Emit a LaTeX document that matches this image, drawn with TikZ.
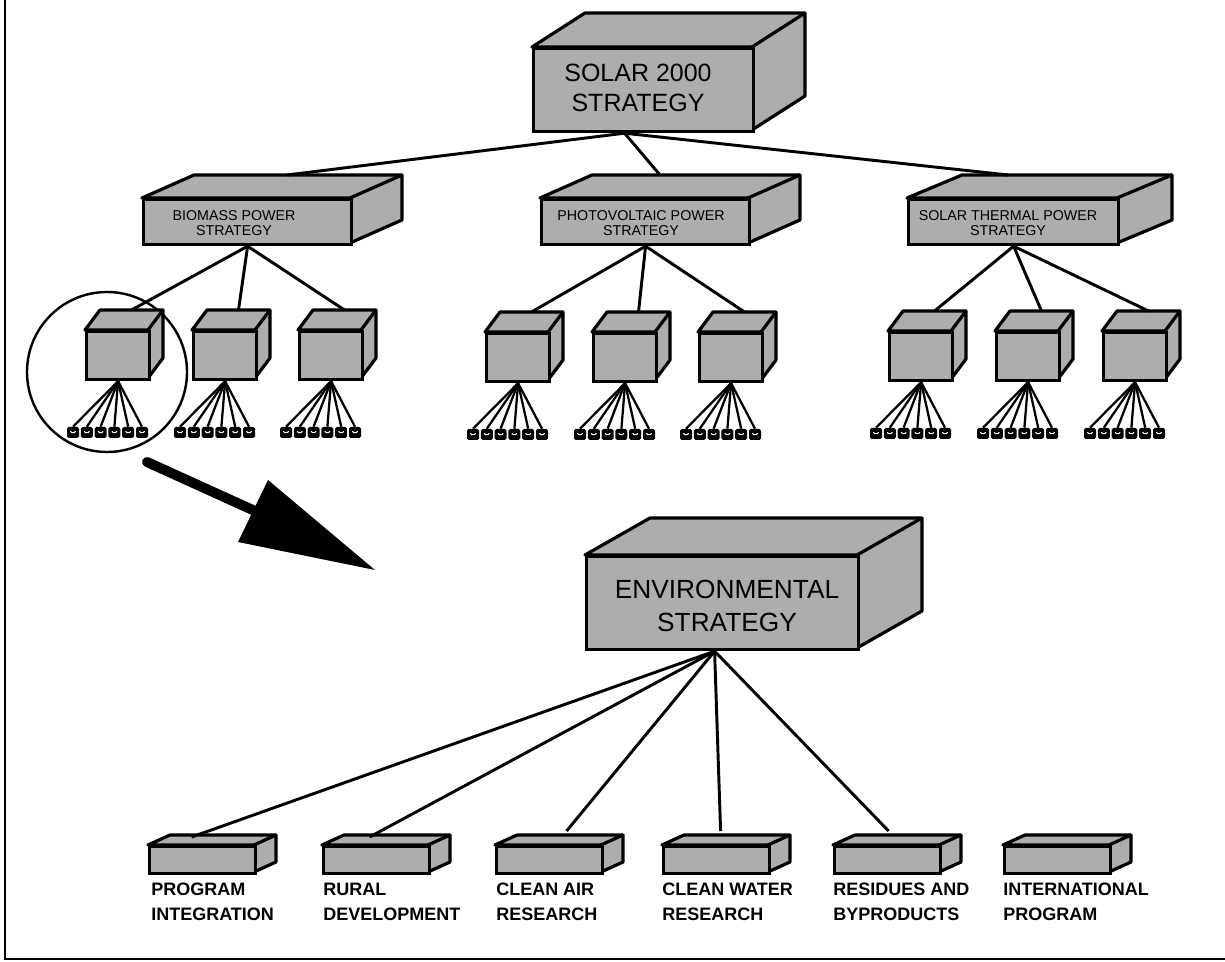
\documentclass[tikz,border=0pt]{standalone}
\usepackage{fontspec}
\setmainfont{Liberation Sans}
\usetikzlibrary{calc}

\tikzset{
  boxside/.style={fill=black!32, draw=black, line width=2.4pt, line join=round},
  boxedge/.style={draw=black, line width=2.4pt, line cap=round},
  boxfront/.style={rectangle, draw=black, fill=black!32, line width=2.4pt, inner sep=0pt},
  link/.style={line width=2.2pt},
  twig/.style={line width=1.7pt},
  tinybox/.style={rectangle, fill=black, rounded corners=1.3pt, inner sep=0pt,
    minimum width=9pt, minimum height=8.25pt,
    path picture={\draw[white, line width=0.8pt, line cap=round]
      ([xshift=-1.8pt,yshift=0.8pt]path picture bounding box.center) --
      ([yshift=-1pt]path picture bounding box.center) --
      ([xshift=1.8pt,yshift=0.8pt]path picture bounding box.center);}},
  bigtext/.style={font=\fontsize{18.75}{22.5}\selectfont, align=center, inner sep=0pt},
  envtext/.style={font=\fontsize{19.7}{24.75}\selectfont, align=center, inner sep=0pt},
  midtext/.style={font=\fontsize{10.7}{11.2}\selectfont, align=center, inner sep=0pt},
  caption/.style={font=\bfseries\fontsize{13.5}{18.75}\selectfont, align=left, inner sep=0pt, anchor=north west},
}

% A shaded solid: name, left, top, width, height, depth x, depth y (all in px)
\newcommand{\solid}[7]{%
  \filldraw[boxside] (#2,#3) -- ++(#6,-#7) -- ++(#4,0) -- ++(0,#5) -- ++(-#6,#7) -- ++(0,-#5) -- cycle;
  \draw[boxedge] (#2+#4,#3) -- ++(#6,-#7);
  \node[boxfront, anchor=north west, minimum width=#4*0.75pt, minimum height=#5*0.75pt] (#1) at (#2,#3) {};
  \coordinate (#1-back) at (#2+#6+#4/2,#3-#7);
}

% A small cube with its fan of six sub-items
\newcommand{\cube}[3]{%
  \solid{#1}{#2}{#3}{63}{48}{15}{20}
  \foreach \k in {1,...,6}{
    \node[tinybox] (#1-\k) at (#2+22.5+\k*13.8-48.3,#3+102.5) {};
    \draw[twig] (#1.south) -- (#1-\k.north);
  }
}

\begin{document}
\begin{tikzpicture}[x=0.75pt, y=-0.75pt]
\useasboundingbox (0,0) rectangle (1225,962);

% frame
\draw[line width=2.2pt] (5,0) -- (5,959) -- (1225,959);

% top level
\solid{solar}{532}{47}{220}{83}{53}{34}
\node[bigtext] (solar-l) at (638,88) {SOLAR 2000\\STRATEGY};

% second level
\solid{biomass}{142}{198}{208}{45}{52}{23}
\node[midtext] (biomass-l) at (234,223) {BIOMASS POWER\\STRATEGY};
\solid{pv}{540}{198}{208}{45}{52}{23}
\node[midtext] (pv-l) at (641,223) {PHOTOVOLTAIC POWER\\STRATEGY};
\solid{thermal}{907}{198}{210}{45}{55}{23}
\node[midtext] (thermal-l) at (1008,223) {SOLAR THERMAL POWER\\STRATEGY};

\coordinate (solar-foot) at ($(solar.south)+(-19,0)$);
\draw[link] (solar-foot) -- ($(biomass-back)+(-11,0)$);
\draw[link] (solar-foot) -- ($(pv-back)+(-36,0)$);
\draw[link] (solar-foot) -- ($(thermal-back)+(-59,0)$);

% highlight ring around the first cube
\node[draw, circle, line width=1.8pt, minimum size=120pt, inner sep=0pt] (focus) at (107,372) {};

% third level cubes
\cube{bm1}{85}{330}
\cube{bm2}{192}{330}
\cube{bm3}{298}{330}
\cube{pv1}{485}{332}
\cube{pv2}{592}{332}
\cube{pv3}{698}{332}
\cube{th1}{888}{331}
\cube{th2}{995}{331}
\cube{th3}{1102}{331}

\foreach \c in {bm1,bm2,bm3}{\draw[link] (biomass.south) -- (\c-back);}
\foreach \c in {pv1,pv2,pv3}{\draw[link] (pv.south) -- (\c-back);}
\foreach \c in {th1,th2,th3}{\draw[link] (thermal.south) -- (\c-back);}

% zoom arrow
\coordinate (arrow-tail) at (147,462);
\coordinate (arrow-neck) at (255,511);
\coordinate (arrow-tip) at (375,570);
\coordinate (arrow-barb-a) at (268,480);
\coordinate (arrow-barb-b) at (238,542);
\draw[line width=7.5pt, line cap=round] (arrow-tail) -- (arrow-neck);
\fill (arrow-barb-a) -- (arrow-tip) -- (arrow-barb-b) -- cycle;

% environmental strategy
\solid{env}{585}{555}{272}{93}{65}{37}
\node[envtext] (env-l) at (727,606) {ENVIRONMENTAL\\STRATEGY};

% programme boxes
\solid{b1}{148}{845}{106}{27}{22}{10}
\solid{b2}{322}{845}{106}{27}{22}{10}
\solid{b3}{495}{845}{106}{27}{22}{10}
\solid{b4}{662}{845}{106}{27}{22}{10}
\solid{b5}{833}{845}{106}{27}{22}{10}
\solid{b6}{1003}{845}{106}{27}{22}{10}

\node[caption] (b1-l) at ($(b1.north west)+(3,38)$) {PROGRAM\\INTEGRATION};
\node[caption] (b2-l) at ($(b2.north west)+(1,38)$) {RURAL\\DEVELOPMENT};
\node[caption] (b3-l) at ($(b3.north west)+(1,38)$) {CLEAN AIR\\RESEARCH};
\node[caption] (b4-l) at ($(b4.north west)+(0,38)$) {CLEAN WATER\\RESEARCH};
\node[caption] (b5-l) at ($(b5.north west)+(0,38)$) {RESIDUES AND\\BYPRODUCTS};
\node[caption] (b6-l) at ($(b6.north west)+(0,38)$) {INTERNATIONAL\\PROGRAM};

\coordinate (env-foot) at ($(env.south)+(-8,0)$);
\draw[link] (env-foot) -- ($(b1.north)+(-11,-8)$);
\draw[link] (env-foot) -- ($(b2.north)+(-7,-8)$);
\draw[link] (env-foot) -- ($(b3.north)+(17,-14)$);
\draw[link] (env-foot) -- ($(b4.north)+(4,-14)$);
\draw[link] (env-foot) -- ($(b5.north)+(1,-14)$);
\end{tikzpicture}
\end{document}
